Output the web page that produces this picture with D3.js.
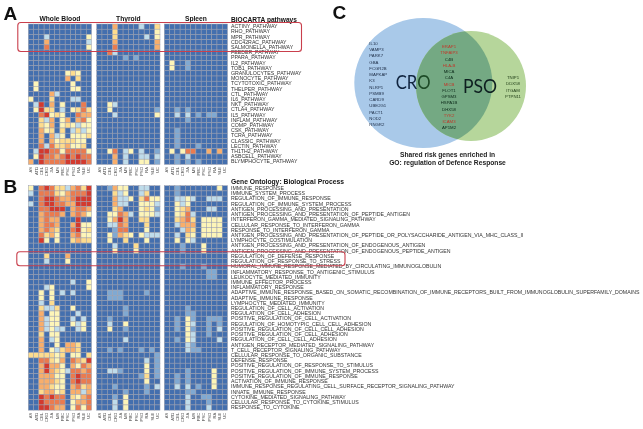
<!DOCTYPE html>
<html><head><meta charset="utf-8">
<script src="https://cdn.jsdelivr.net/npm/d3@7"></script>
<style>html,body{margin:0;padding:0;background:#fff}svg{display:block;filter:blur(0.3px)}</style>
</head><body><div id="chart"></div>
<script>
const diseases=["AS","ATD","CEL","CRO","JIA","MS","PBC","PSC","PSO","RA","SLE","UC"];
const tissues=["Whole Blood","Thyroid","Spleen"];
const biocartaPathways=["ACTINY_PATHWAY","RHO_PATHWAY","MPR_PATHWAY","CDC42RAC_PATHWAY","SALMONELLA_PATHWAY","FEEDER_PATHWAY","PPARA_PATHWAY","IL2_PATHWAY","TOB1_PATHWAY","GRANULOCYTES_PATHWAY","MONOCYTE_PATHWAY","TCYTOTOXIC_PATHWAY","THELPER_PATHWAY","CTL_PATHWAY","IL6_PATHWAY","NKT_PATHWAY","CTLA4_PATHWAY","IL5_PATHWAY","INFLAM_PATHWAY","COMP_PATHWAY","CSK_PATHWAY","TCRA_PATHWAY","CLASSIC_PATHWAY","LECTIN_PATHWAY","TH1TH2_PATHWAY","ASBCELL_PATHWAY","BLYMPHOCYTE_PATHWAY"];
const goProcesses=["IMMUNE_RESPONSE","IMMUNE_SYSTEM_PROCESS","REGULATION_OF_IMMUNE_RESPONSE","REGULATION_OF_IMMUNE_SYSTEM_PROCESS","ANTIGEN_PROCESSING_AND_PRESENTATION","ANTIGEN_PROCESSING_AND_PRESENTATION_OF_PEPTIDE_ANTIGEN","INTERFERON_GAMMA_MEDIATED_SIGNALING_PATHWAY","CELLULAR_RESPONSE_TO_INTERFERON_GAMMA","RESPONSE_TO_INTERFERON_GAMMA","ANTIGEN_PROCESSING_AND_PRESENTATION_OF_PEPTIDE_OR_POLYSACCHARIDE_ANTIGEN_VIA_MHC_CLASS_II","LYMPHOCYTE_COSTIMULATION","ANTIGEN_PROCESSING_AND_PRESENTATION_OF_ENDOGENOUS_ANTIGEN","ANTIGEN_PROCESSING_AND_PRESENTATION_OF_ENDOGENOUS_PEPTIDE_ANTIGEN","REGULATION_OF_DEFENSE_RESPONSE","REGULATION_OF_RESPONSE_TO_STRESS","HUMORAL_IMMUNE_RESPONSE_MEDIATED_BY_CIRCULATING_IMMUNOGLOBULIN","INFLAMMATORY_RESPONSE_TO_ANTIGENIC_STIMULUS","LEUKOCYTE_MEDIATED_IMMUNITY","IMMUNE_EFFECTOR_PROCESS","INFLAMMATORY_RESPONSE","ADAPTIVE_IMMUNE_RESPONSE_BASED_ON_SOMATIC_RECOMBINATION_OF_IMMUNE_RECEPTORS_BUILT_FROM_IMMUNOGLOBULIN_SUPERFAMILY_DOMAINS","ADAPTIVE_IMMUNE_RESPONSE","LYMPHOCYTE_MEDIATED_IMMUNITY","REGULATION_OF_CELL_ACTIVATION","REGULATION_OF_CELL_ADHESION","POSITIVE_REGULATION_OF_CELL_ACTIVATION","REGULATION_OF_HOMOTYPIC_CELL_CELL_ADHESION","POSITIVE_REGULATION_OF_CELL_CELL_ADHESION","POSITIVE_REGULATION_OF_CELL_ADHESION","REGULATION_OF_CELL_CELL_ADHESION","ANTIGEN_RECEPTOR_MEDIATED_SIGNALING_PATHWAY","T_CELL_RECEPTOR_SIGNALING_PATHWAY","CELLULAR_RESPONSE_TO_ORGANIC_SUBSTANCE","DEFENSE_RESPONSE","POSITIVE_REGULATION_OF_RESPONSE_TO_STIMULUS","POSITIVE_REGULATION_OF_IMMUNE_SYSTEM_PROCESS","POSITIVE_REGULATION_OF_IMMUNE_RESPONSE","ACTIVATION_OF_IMMUNE_RESPONSE","IMMUNE_RESPONSE_REGULATING_CELL_SURFACE_RECEPTOR_SIGNALING_PATHWAY","INNATE_IMMUNE_RESPONSE","CYTOKINE_MEDIATED_SIGNALING_PATHWAY","CELLULAR_RESPONSE_TO_CYTOKINE_STIMULUS","RESPONSE_TO_CYTOKINE"];

// enrichment level per cell (0 = none ... 7 = strongest), one string per row, one digit per disease
const bioWholeBlood=["000000000000","000000000000","000200000003","000500000002","000600000003","000000000000","000000000000","000000000000","000000000000","000000034300","000000050400","030000003000","030000003300","000052000000","300040002200","027050300060","037440203464","006734300655","004250350563","004350343233","005340402423","005052303334","005053444330","006264453340","027766366663","037665676766","507666677776"];
const bioThyroid=["000500002004","000400000003","000400000203","000500000005","000600000005","006200000000","000001010000","000000000000","000000000000","000000000000","000000000000","000000000000","000000000000","000000000000","000000000000","003200000000","003000000001","000200000003","000000000000","000000000000","000000000000","000000000000","000000000000","000000000000","003602302001","000502002202","000502003301"];
const bioSpleen=["000000000000","000000000000","000000000000","000000000000","000000000000","000000000000","000000000000","030010000000","030010000000","000000000000","000000000000","000000000000","000000000000","000000000000","000000000000","000000000000","001010000000","002020101100","000010000000","000000000000","001000000000","001000000000","001000000000","001000100000","030366005050","001020000000","001010100000"];
const goWholeBlood=["306764425647","206664356667","006776556777","206776655777","006677705665","005666505653","005655000700","005665005733","005654006734","006453005633","007303004544","000000000000","000000000000","000400050000","000200030000","000000000000","000000000000","000000000000","000000002003","000230000003","003030202000","003030000000","002040000000","004224003000","005033000200","005233002020","005233003230","005232200230","004033000000","005023000000","005003055400","005032455400","444443403304","006643506547","005755305365","005754326656","005553306766","005554306766","005543305645","004553405525","007676604356","007666603556","007765503636"];
const goThyroid=["001533002200","000423002400","000522304633","000522003332","000450003431","003365203332","003575004400","002265000400","000166000300","003154303222","003004000300","000200040000","000300030000","000000000000","000000000000","000000000000","000000000000","000000000000","000000000000","000000000000","001110000100","001110000000","000000000000","000001000000","000001000000","001000000000","002003000000","003001000000","000000000000","000002000000","000000000000","001010001010","000000000001","000000000201","000000000301","002210000301","000000001401","000000000300","000100000102","000001000100","000103000000","000203000000","000203000000"];
const goSpleen=["001000000030","001000000000","002232002220","003230000000","003450002200","003462000000","004564033330","002555033330","000254033330","002043033330","003032000000","000100030000","000100030000","000000000000","000000000000","000100010000","000000001100","000000001100","000000000000","000000000000","000000000000","000000000000","000000000000","000010000000","000011000000","001031001110","001032001010","001031001020","000032001000","001032000020","000021000000","000021100000","000000000000","000000000000","000000000000","000010000300","001010000300","001010000300","002020100300","000011000000","000020011000","000020001000","000020002000"];

const levels=[0,1,2,3,4,5,6,7];
const levelColors=["#446fae","#80a9d2","#bfdcea","#fdf5b8","#fddc8e","#f8ae6b","#ea7b4f","#d33a2e"];
const genesCro=["IL10","VAMP3","PARK7","GBA","FCGR2B","MAPKAP","K3","NLRP1","PSMB9","CARD9","UBE2G1","PACT1","NOD2","RNGR2"];
const genesShared=["ERAP1","TNFAIP3","C4B","HLA-B","MICA","C4A","MICB","FLOT1","GPSM3","HSPA1B","DHX58","TYK2","ICAM3","AP1M2"];
const genesSharedRed=["ERAP1","TNFAIP3","HLA-B","MICB","TYK2","ICAM3"];
const genesPso=["TNIP1","DDX58","ITGAM","PTPN11"];

const W=643,H=429;
const svg=d3.select("#chart").append("svg").attr("width",W).attr("height",H);
const font="'Liberation Sans',Arial,sans-serif";
const color=d3.scaleOrdinal().domain(levels).range(levelColors);
const panelXs=[[28.3,91.5],[96.7,160],[164.3,227.5]];

function heatmap(rowsLabels,matrices,top,rowStep){
  const y=d3.scaleBand().domain(rowsLabels).range([top,top+rowStep*rowsLabels.length]);
  matrices.forEach((m,p)=>{
    const x=d3.scaleBand().domain(diseases).range(panelXs[p]);
    const g=svg.append("g");
    m.forEach((row,i)=>{
      g.selectAll(null).data(Array.from(row).map((v,j)=>({v:+v,d:diseases[j]}))).join("rect")
       .attr("x",d=>x(d.d)).attr("y",y(rowsLabels[i])).attr("width",x.bandwidth()).attr("height",y.bandwidth())
       .attr("fill",d=>color(d.v)).attr("stroke","#9c9fae").attr("stroke-width",0.5);
    });
    const ax=svg.append("g").attr("transform",`translate(0,${top+rowStep*rowsLabels.length+2.5})`)
      .call(d3.axisBottom(x).tickSize(0).tickPadding(0));
    ax.select(".domain").remove();
    ax.selectAll("text").attr("transform","rotate(-90)").attr("x",0).attr("y",0).attr("dy","0.35em")
      .attr("text-anchor","end").attr("font-size",4.2).attr("font-family",font).attr("fill","#444");
  });
  const ay=svg.append("g").attr("transform",`translate(231,0)`)
    .call(d3.axisRight(y).tickSize(0).tickPadding(0));
  ay.select(".domain").remove();
  ay.selectAll("text").attr("font-size",5.22).attr("font-family",font).attr("fill","#333");
  return y;
}

const yA=heatmap(biocartaPathways,[bioWholeBlood,bioThyroid,bioSpleen],24,5.2);
const yB=heatmap(goProcesses,[goWholeBlood,goThyroid,goSpleen],185.7,5.22);

function txt(x,y,s,size,opts={}){
  return svg.append("text").attr("x",x).attr("y",y).text(s).attr("font-size",size)
    .attr("font-family",opts.family||font).attr("font-weight",opts.weight||"normal")
    .attr("text-anchor",opts.anchor||"start").attr("fill",opts.fill||"#111");
}
// panel letters
txt(3.5,19.5,"A",19,{weight:"bold"});
txt(3.5,192.5,"B",19,{weight:"bold"});
txt(332.5,18.5,"C",19,{weight:"bold"});
// tissue headers
tissues.forEach((t,i)=>txt((panelXs[i][0]+panelXs[i][1])/2,21.3,t,6.7,{weight:"bold",anchor:"middle"}));
txt(231,21.5,"BIOCARTA pathways",6.6,{weight:"bold"});
txt(231,184,"Gene Ontology: Biological Process",6.75,{weight:"bold"});

// red highlight boxes
[[yA("ACTINY_PATHWAY"),yA("SALMONELLA_PATHWAY"),17.8,301.5,1.5],[yB("REGULATION_OF_DEFENSE_RESPONSE"),yB("REGULATION_OF_RESPONSE_TO_STRESS"),16.8,345,1.8]].forEach(([a,b,l,r,p])=>{
  svg.append("rect").attr("x",l).attr("y",a-p).attr("width",r-l).attr("height",b+5.2-a+2*p)
    .attr("rx",3).attr("fill","none").attr("stroke","#c93f4c").attr("stroke-width",1.1);
});

// Venn
const venn={cro:{cx:423.3,cy:83,rx:69,ry:65},pso:{cx:471,cy:86,rx:55,ry:55}};
const defs=svg.append("defs");
defs.append("clipPath").attr("id","croClip").append("ellipse").attr("cx",venn.cro.cx).attr("cy",venn.cro.cy).attr("rx",venn.cro.rx).attr("ry",venn.cro.ry);
const ell=(o,f)=>svg.append("ellipse").attr("cx",o.cx).attr("cy",o.cy).attr("rx",o.rx).attr("ry",o.ry).attr("fill",f);
ell(venn.cro,"#a9c9e9");
ell(venn.pso,"#b6d69b");
ell(venn.pso,"#74a983").attr("clip-path","url(#croClip)");
const vennFont="Lato,'Open Sans',sans-serif";
const yGene=d3.scaleBand().domain(d3.range(14)).range([40,127.5]);
genesCro.forEach((g,i)=>txt(369.3,yGene(i)+4.8,g,4.3,{fill:"#20304a"}));
genesShared.forEach((g,i)=>txt(449,yGene(i)+8.2,g,4.3,{anchor:"middle",fill:genesSharedRed.includes(g)?"#c0392b":"#0d2a1a"}));
genesPso.forEach((g,i)=>txt(513,yGene(i+6)+1.6,g,4.3,{anchor:"middle",fill:"#1d3a14"}));
const croLabel=txt(0,0,"CR",18.5,{family:vennFont,fill:"#10243f"}).attr("transform","translate(395.7,89) scale(0.9,1)");
croLabel.append("tspan").text("O").attr("fill","#1c4a26");
txt(0,0,"PSO",18.5,{family:vennFont,fill:"#0e1f20"}).attr("transform","translate(463,92.5) scale(0.95,1)");
txt(447.5,156.5,"Shared risk genes enriched in",6.7,{weight:"bold",anchor:"middle",fill:"#222"});
txt(447.5,164.5,"GO: regulation of Defence Response",6.7,{weight:"bold",anchor:"middle",fill:"#222"});
</script></body></html>
